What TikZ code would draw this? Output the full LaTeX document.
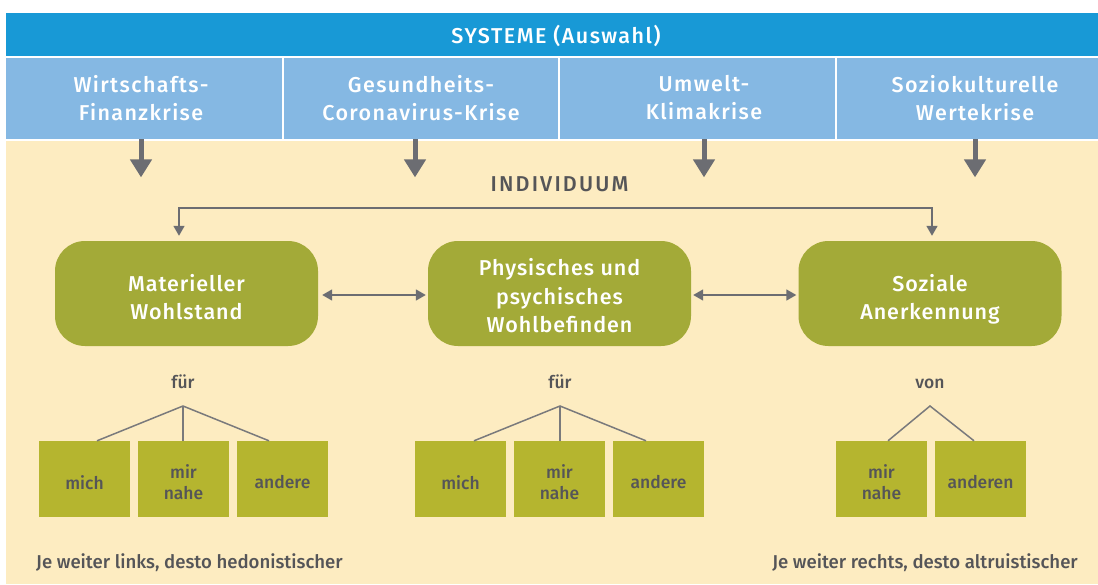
\documentclass[tikz,border=0pt]{standalone}
\usepackage{fontspec}
\setmainfont{Fira Sans}[UprightFont=* Medium]
\newfontfamily\fhdr{Fira Sans}[UprightFont=* Medium, LetterSpace=6.5]
\newfontfamily\fsys{Fira Sans}[UprightFont=* Medium, LetterSpace=7]
\newfontfamily\find{Fira Sans}[UprightFont=* Medium, LetterSpace=10]
\newfontfamily\fboxtxt{Fira Sans}[UprightFont=* Medium, LetterSpace=4.5]
\usetikzlibrary{arrows.meta,calc}
\definecolor{sysblue}{HTML}{1899D6}
\definecolor{cellblue}{HTML}{85B8E3}
\definecolor{beigebg}{HTML}{FDECC1}
\definecolor{boxgreen}{HTML}{A3AA38}
\definecolor{smallgreen}{HTML}{B5B52F}
\definecolor{arrowgray}{HTML}{6C6D72}
\definecolor{textgray}{HTML}{555558}
\definecolor{treegray}{HTML}{7A7A7C}
\begin{document}
\begin{tikzpicture}[x=1pt,y=-1pt,
  cell/.style={fill=cellblue, minimum height=81pt, inner sep=0pt, anchor=north west},
  hdr/.style={text=white, font=\fhdr\fontsize{21.5}{28}\selectfont, align=center, inner sep=0pt},
  bigbox/.style={fill=boxgreen, rounded corners=30pt, minimum width=263pt, minimum height=105pt, inner sep=0pt},
  boxtext/.style={text=white, font=\fboxtxt\fontsize{21.5}{28.5}\selectfont, align=center, inner sep=0pt},
  smallbox/.style={fill=smallgreen, minimum width=91pt, minimum height=76pt, inner sep=0pt},
  smalltext/.style={text=textgray, font=\fontsize{17.5}{21}\selectfont, align=center, inner sep=0pt},
  lbl/.style={text=textgray, font=\fontsize{17.5}{21}\selectfont, inner sep=0pt},
  foot/.style={text=textgray, font=\fontsize{18.6}{22}\selectfont, inner sep=0pt},
  down/.style={draw=arrowgray, line width=5pt, -{Triangle[length=18pt,width=21pt]}},
  conn/.style={draw=arrowgray, line width=1.6pt, {Triangle[length=10pt,width=11pt]}-{Triangle[length=10pt,width=11pt]}},
  tree/.style={draw=treegray, line width=1.5pt}
]
\useasboundingbox (0,0) rectangle (1098,584);
\fill[white] (0,0) rectangle (1098,584);
\fill[beigebg] (6,141) rectangle (1098,584);

% header
\node[fill=sysblue, minimum width=1092pt, minimum height=43pt, inner sep=0pt, anchor=north west] (sys) at (6,13) {};
\node[text=white, font=\fsys\fontsize{21.5}{24}\selectfont, inner sep=0pt] (syst) at (556,35.5) {SYSTEME (Auswahl)};
\node[cell, minimum width=276pt] (c1) at (6,58) {};
\node[cell, minimum width=274pt] (c2) at (284,58) {};
\node[cell, minimum width=275pt] (c3) at (560,58) {};
\node[cell, minimum width=261pt] (c4) at (837,58) {};
\node[hdr] (t1) at (141,98) {Wirtschafts-\\Finanzkrise};
\node[hdr] (t2) at (421,98) {Gesundheits-\\Coronavirus-Krise};
\node[hdr] (t3) at (704,98) {Umwelt-\\Klimakrise};
\node[hdr] (t4) at (975,98) {Soziokulturelle\\Wertekrise};

\draw[down] (t1 |- c1.south) -- ++(0,38);
\draw[down] ([xshift=-6pt]t2 |- c2.south) -- ++(0,38);
\draw[down] (t3 |- c3.south) -- ++(0,38);
\draw[down] (t4 |- c4.south) -- ++(0,38);

\node[text=textgray, font=\find\fontsize{21.5}{24}\selectfont, anchor=base, inner sep=0pt] (ind) at (559.5,191) {INDIVIDUUM};

% main boxes
\node[bigbox] (b1) at (186.5,293.5) {};
\node[bigbox] (b2) at (559.5,293.5) {};
\node[bigbox] (b3) at (930,293.5) {};
\node[boxtext] (b1t) at (186.5,297) {Materieller\\Wohlstand};
\node[boxtext] (b2t) at (559.5,295.7) {Physisches und\\psychisches\\Wohlbefinden};
\node[boxtext] (b3t) at (930,299.2) {Soziale\\Anerkennung};

\draw[conn] ([xshift=4pt,yshift=-1.5pt]b1.east) -- ([xshift=-2pt,yshift=-1.5pt]b2.west);
\draw[conn] ([xshift=2pt,yshift=-1.5pt]b2.east) -- ([xshift=-2pt,yshift=-1.5pt]b3.west);
\draw[conn] ([xshift=-7.5pt,yshift=5pt]b1.north) -- ++(0,-28) -| ([xshift=2pt,yshift=5pt]b3.north);

% group 1
\node[smallbox] (m1) at (84.5,479) {};
\node[smallbox] (m2) at (183.5,479) {};
\node[smallbox] (m3) at (282.5,479) {};
\node[smalltext] (m1t) at (84.5,482.5) {mich};
\node[smalltext] (m2t) at (183.5,482.5) {mir\\nahe};
\node[smalltext] (m3t) at (282.5,482.5) {andere};
\node[lbl, anchor=base] (f1) at (183,388) {für};
\coordinate (ap1) at (183,406);
\draw[tree] ([xshift=12.5pt]m1.north) -- (ap1) -- ([xshift=-13.5pt]m3.north);
\draw[tree] (ap1) -- (ap1 |- m2.north);

% group 2
\node[smallbox] (n1) at (460.5,479) {};
\node[smallbox] (n2) at (559.5,479) {};
\node[smallbox] (n3) at (658.5,479) {};
\node[smalltext] (n1t) at (460.5,482.5) {mich};
\node[smalltext] (n2t) at (559.5,482.5) {mir\\nahe};
\node[smalltext] (n3t) at (658.5,482.5) {andere};
\node[lbl, anchor=base] (f2) at (560,388) {für};
\coordinate (ap2) at (560,406);
\draw[tree] ([xshift=13.5pt]n1.north) -- (ap2) -- ([xshift=-12.5pt]n3.north);
\draw[tree] (ap2) -- (ap2 |- n2.north);

% group 3
\node[smallbox] (r1) at (881.5,479) {};
\node[smallbox] (r2) at (980.5,479) {};
\node[smalltext] (r1t) at (881.5,482.5) {mir\\nahe};
\node[smalltext] (r2t) at (980.5,482.5) {anderen};
\node[lbl, anchor=base] (v1) at (930,388) {von};
\coordinate (ap3) at (930,406);
\draw[tree] ([xshift=6.5pt]r1.north) -- (ap3) -- ([xshift=-6.5pt]r2.north);

% bottom
\node[foot, anchor=base west] (bl) at (36,568) {Je weiter links, desto hedonistischer};
\node[foot, anchor=base east] (br) at (1078,568) {Je weiter rechts, desto altruistischer};
\end{tikzpicture}
\end{document}
